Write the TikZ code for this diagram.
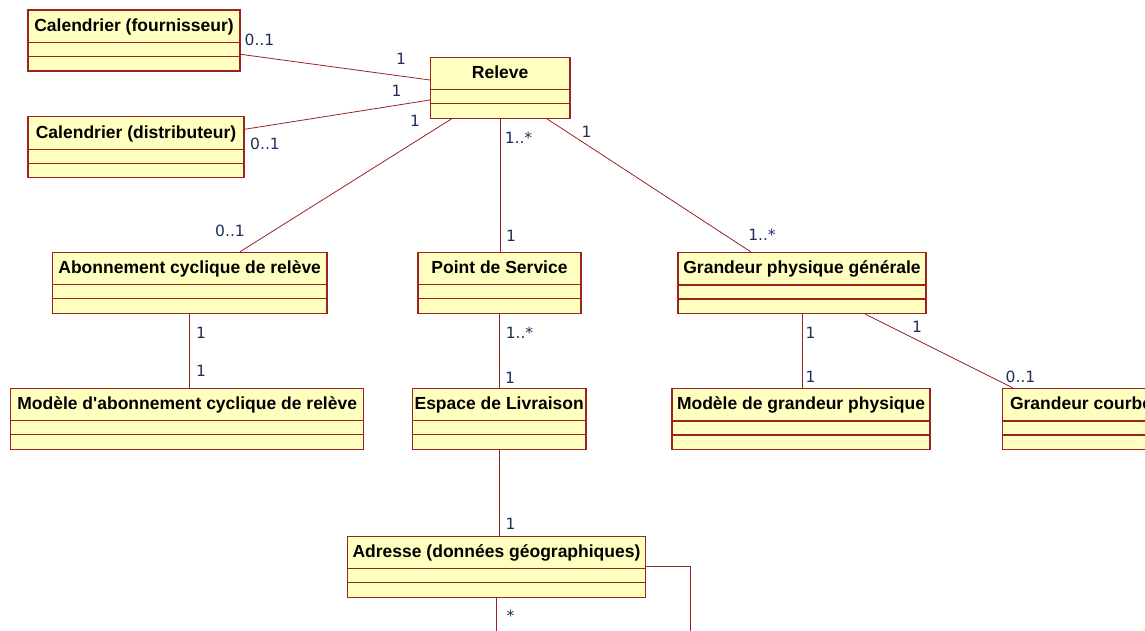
\documentclass[tikz,border=0pt]{standalone}
\usepackage{fontspec}
\newfontfamily\titlefont{Liberation Sans}
\newfontfamily\multfont{DejaVu Sans}

\definecolor{umlred}{RGB}{153,34,34}
\definecolor{umlfill}{RGB}{255,255,192}
\definecolor{umltext}{RGB}{30,45,90}

\tikzset{
  classbox/.style={draw=umlred, fill=umlfill, line width=1.1pt, minimum height=61pt, inner sep=0pt},
  classtitle/.style={font=\titlefont\bfseries\fontsize{17.5}{20}\selectfont, text=black, inner sep=0pt, anchor=base},
  classline/.style={draw=umlred, line width=1.1pt},
  assoc/.style={draw=umlred, line width=0.8pt},
  mult/.style={font=\multfont\fontsize{15.5}{18}\selectfont, text=umltext, inner sep=0pt}
}

% class box: name, centre, width, title
\newcommand{\umlclass}[4]{%
  \node[classbox, minimum width=#3] (#1) at #2 {};
  \node[classtitle] (#1-title) at ([yshift=-22pt]#1.north) {#4};
  \draw[classline] ([yshift=-33pt]#1.north west) -- ([yshift=-33pt]#1.north east);
  \draw[classline] ([yshift=-47pt]#1.north west) -- ([yshift=-47pt]#1.north east);
}

\begin{document}
\begin{tikzpicture}[x=1pt, y=-1pt]
            \useasboundingbox (0,0) rectangle (1145,631);
            \clip (0,0) rectangle (1145,631);

            % Classes
            \umlclass{calf}{(134,40.5)}{212pt}{Calendrier (fournisseur)}
            \umlclass{cald}{(136,147.2)}{216pt}{Calendrier (distributeur)}
            \umlclass{releve}{(500.2,87.8)}{139.5pt}{Releve}
            \umlclass{abon}{(189.7,282.8)}{274.6pt}{Abonnement cyclique de relève}
            \umlclass{pds}{(499.5,282.8)}{163pt}{Point de Service}
            \umlclass{gpg}{(802,283)}{248pt}{Grandeur physique générale}
            \umlclass{modabo}{(187.2,418.8)}{353pt}{Modèle d'abonnement cyclique de relève}
            \umlclass{espace}{(499.2,418.8)}{173.5pt}{Espace de Livraison}
            \umlclass{modgp}{(801,419)}{258pt}{Modèle de grandeur physique}
            \umlclass{courbe}{(1081,419)}{157pt}{Grandeur courbe}
            \umlclass{adresse}{(496.5,566.7)}{298.4pt}{Adresse (données géographiques)}

            % Associations around Releve
            \draw[assoc] ([yshift=-13.8pt]calf.east) -- ([yshift=7.8pt]releve.west);
            \draw[assoc] ([yshift=17.9pt]cald.east) -- ([yshift=-12.2pt]releve.west);
            \draw[assoc] ([xshift=-48.6pt]releve.south) -- ([xshift=50.3pt]abon.north);
            \draw[assoc] (releve.south) -- (releve.south |- pds.north);
            \draw[assoc] ([xshift=46.8pt]releve.south) -- ([xshift=-51pt]gpg.north);

            % Vertical associations
            \foreach \a/\b in {abon/modabo, pds/espace, gpg/modgp, espace/adresse}
                \draw[assoc] (\a.south) -- (\a.south |- \b.north);
            \draw[assoc] ([xshift=63pt]gpg.south) -- ([xshift=11pt]courbe.north west);

            % Associations leaving the picture
            \coordinate (adr-bas) at (496.5,640);
            \coordinate (adr-droite) at (690,640);
            \draw[assoc] (adresse.south) -- (adresse.south |- adr-bas);
            \draw[assoc] (adresse.east) -| (adr-droite);

            % Multiplicities
            \foreach \px/\py/\txt [count=\i] in {259.5/40/0..1, 401/59/1, 396.5/91/1, 265/144/0..1,
                415/121/1, 518.5/137.5/1..*, 586.5/132/1, 230/231/0..1, 511/235.5/1, 762/234.5/1..*,
                201/333/1, 201/371/1, 519.5/333/1..*, 510/377.5/1, 810.5/332.5/1, 810.5/377/1,
                917/326.5/1, 1020.5/377/0..1, 510.5/524/1, 510.5/616/*}
                \node[mult] (m\i) at (\px,\py) {\txt};
        \end{tikzpicture}
\end{document}
